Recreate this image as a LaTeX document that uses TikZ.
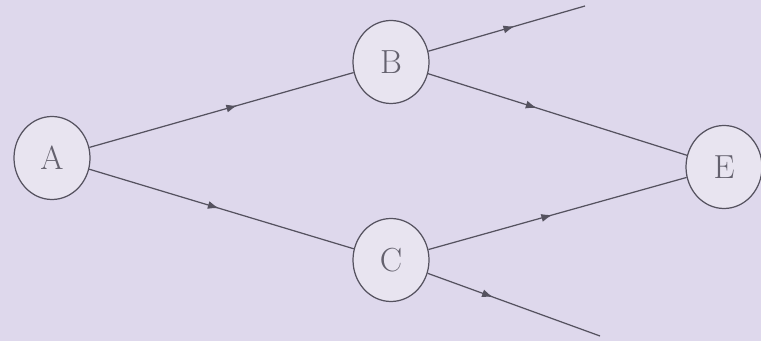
\documentclass[tikz,border=0pt]{standalone}
\usepackage{xcolor}
\usepackage{tikz}
\usetikzlibrary{shapes.geometric,arrows.meta,decorations.markings}
\definecolor{paperlilac}{RGB}{222,216,236}
\definecolor{stategray}{RGB}{232,228,240}
\definecolor{inkgray}{RGB}{85,82,95}
\definecolor{lettergray}{RGB}{100,97,110}

\begin{document}
\begin{tikzpicture}[
    state/.style={ellipse, draw=inkgray, fill=stategray, line width=0.7pt,
        minimum width=1.52cm, minimum height=1.66cm, inner sep=0pt,
        text=lettergray, font=\fontsize{19}{22}\selectfont},
    flow/.style={draw=inkgray, line width=0.7pt, postaction={decorate},
        decoration={markings, mark=at position #1 with {\arrow{Latex[length=2.2mm,width=1.6mm]}}}},
    flow/.default=0.5
]

% Background
\fill[paperlilac] (0,0) rectangle (15.22,6.82);
\useasboundingbox (0,0) rectangle (15.22,6.82);

% States
\node[state] (A) at (1.04, 3.66) {A};
\node[state] (B) at (7.82, 5.58) {B};
\node[state] (C) at (7.82, 1.62) {C};
\node[state] (E) at (14.48, 3.48) {E};

% Free ends
\coordinate (outB) at (11.7, 6.7);
\coordinate (outC) at (12.0, 0.1);

% Transitions
\draw[flow=0.56] (A) -- (B);
\draw[flow=0.49] (A) -- (C);
\draw[flow=0.55] (B) -- (outB);
\draw[flow=0.42] (B) -- (E);
\draw[flow=0.48] (C) -- (E);
\draw[flow=0.38] (C) -- (outC);

\end{tikzpicture}
\end{document}
